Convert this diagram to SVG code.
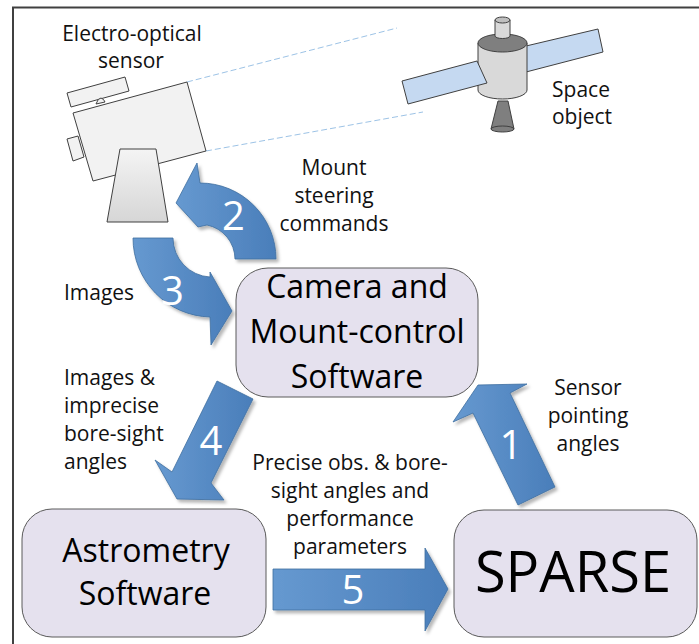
<svg xmlns="http://www.w3.org/2000/svg" width="699" height="644" viewBox="0 0 699 644">
  <defs>
    <linearGradient id="blueFill" x1="0" y1="0" x2="1" y2="0">
      <stop offset="0" stop-color="#6699d0"/>
      <stop offset="1" stop-color="#4a7eba"/>
    </linearGradient>
    <linearGradient id="mountFill" x1="0" y1="0" x2="0" y2="1">
      <stop offset="0" stop-color="#f4f4f4"/>
      <stop offset="1" stop-color="#d6d6d6"/>
    </linearGradient>
    <filter id="shadow" x="-20%" y="-20%" width="150%" height="150%">
      <feDropShadow dx="2.5" dy="3" stdDeviation="1.5" flood-color="#000" flood-opacity="0.28"/>
    </filter>
    <style>
      .box { fill: #e5e1ee; stroke: #5a5a5a; stroke-width: 1; }
      .flow { fill: url(#blueFill); stroke: #3f6f9f; stroke-width: 0.8; filter: url(#shadow); }
      .num { font-family: "Open Sans", "Liberation Sans", sans-serif; font-size: 40px; fill: #ffffff; text-anchor: middle; }
      .big { font-family: "Open Sans", "Liberation Sans", sans-serif; font-size: 32px; fill: #000; text-anchor: middle; }
      .lbl { font-family: "Open Sans", "Liberation Sans", sans-serif; font-size: 21px; fill: #111; text-anchor: middle; }
      .lbl-l { text-anchor: start; }
      .part { stroke: #404040; stroke-width: 1; stroke-linejoin: round; }
      .sight { fill: none; stroke: #9dc3e6; stroke-width: 1; stroke-dasharray: 6 3; }
    </style>
  </defs>

  <rect width="699" height="644" fill="#ffffff"/>

  <!-- frame edges -->
  <path d="M13,644 V7.5 H699" fill="none" stroke="#404040" stroke-width="2"/>

  <!-- lines of sight -->
  <g id="sightlines">
    <line class="sight" x1="187" y1="82" x2="397" y2="28"/>
    <line class="sight" x1="206" y1="151" x2="423" y2="112"/>
  </g>

  <!-- electro-optical sensor on its mount -->
  <g id="sensor">
    <polygon class="part" fill="#f2f2f2" points="67,93 125,77 129,91 71,107"/>
    <path class="part" fill="#f2f2f2" d="M96,104 Q98,98 101,98 Q104,99 105,102 Z"/>
    <polygon class="part" fill="#f2f2f2" points="67,139 78,136 84,157 73,161"/>
    <polygon class="part" fill="#f2f2f2" points="73,113 187,82 206,151 93,181"/>
    <polygon class="part" fill="url(#mountFill)" points="120,149 156,149 168,222 107,222"/>
    <text class="lbl" x="132" y="41">Electro-optical</text>
    <text class="lbl" x="131" y="68">sensor</text>
  </g>

  <!-- satellite -->
  <g id="space-object">
    <polygon class="part" fill="#c5d9f1" points="526,46 598,29 603,52 526,72"/>
    <polygon class="part" fill="#7f7f7f" points="498,101 508,101 514,129 491,129"/>
    <ellipse class="part" fill="#7f7f7f" cx="502.5" cy="129" rx="11.5" ry="3"/>
    <path class="part" fill="#d9d9d9" d="M478,43 V90 A24.5,9 0 0 0 527,90 V43 Z"/>
    <ellipse class="part" fill="#7f7f7f" cx="502.5" cy="43" rx="24.5" ry="9"/>
    <path class="part" fill="#d9d9d9" d="M495,20 V36 A7.5,2.5 0 0 0 510,36 V20 Z"/>
    <ellipse class="part" fill="#bfbfbf" cx="502.5" cy="20" rx="7.5" ry="3"/>
    <polygon class="part" fill="#c5d9f1" points="402,81 477,61 487,83 408,104"/>
    <text class="lbl" x="581" y="97">Space</text>
    <text class="lbl" x="582" y="124">object</text>
  </g>

  <!-- software blocks -->
  <g id="camera-mount-software">
    <rect class="box" x="236" y="268" width="242" height="129" rx="32" ry="32"/>
    <text class="big" x="357" y="298">Camera and</text>
    <text class="big" x="357" y="343">Mount-control</text>
    <text class="big" x="357" y="388">Software</text>
  </g>

  <g id="astrometry-software">
    <rect class="box" x="22" y="509" width="244" height="128" rx="30" ry="30"/>
    <text class="big" x="146" y="562">Astrometry</text>
    <text class="big" x="145" y="605">Software</text>
  </g>

  <g id="sparse">
    <rect class="box" x="454" y="510" width="243" height="127" rx="30" ry="30"/>
    <text class="big" x="573" y="592" style="font-size:56px">SPARSE</text>
  </g>

  <!-- numbered data flows -->
  <g id="connectors">
    <g id="flow-1">
      <polygon class="flow" points="478,385 527,384 510,393 555,487 518,505 473,413 453,422"/>
      <text class="num" x="511" y="459">1</text>
    </g>
    <g id="flow-2">
      <path class="flow" d="M276,259 A76,76 0 0 0 200,183 L197,163 L176,203 L198,227 L207,225 A35,35 0 0 1 235,259 Z"/>
      <text class="num" x="233.5" y="230">2</text>
    </g>
    <g id="flow-3">
      <path class="flow" d="M133,238 A79,79 0 0 0 210,317 L211,345 L232,311 L210,272 L210,277 A39,39 0 0 1 173,238 Z"/>
      <text class="num" x="172.5" y="305">3</text>
    </g>
    <g id="flow-4">
      <polygon class="flow" points="217,381 253,399 211,483 224,500 177,499 155,460 172,472"/>
      <text class="num" x="211" y="455">4</text>
    </g>
    <g id="flow-5">
      <polygon class="flow" points="273,569 425,569 425,548 448,589 425,631 425,610 273,610"/>
      <text class="num" x="353" y="604">5</text>
    </g>
  </g>

  <!-- flow labels -->
  <g id="labels">
    <text class="lbl" x="334" y="175">Mount</text>
    <text class="lbl" x="334" y="203">steering</text>
    <text class="lbl" x="334" y="231">commands</text>
    <text class="lbl" x="99" y="300">Images</text>
    <text class="lbl lbl-l" x="64" y="385">Images &amp;</text>
    <text class="lbl lbl-l" x="64" y="413">imprecise</text>
    <text class="lbl lbl-l" x="64" y="441">bore-sight</text>
    <text class="lbl lbl-l" x="64" y="469">angles</text>
    <text class="lbl" x="588" y="395">Sensor</text>
    <text class="lbl" x="588" y="423">pointing</text>
    <text class="lbl" x="588" y="451">angles</text>
    <text class="lbl" x="350" y="470">Precise obs. &amp; bore-</text>
    <text class="lbl" x="350" y="498">sight angles and</text>
    <text class="lbl" x="350" y="526">performance</text>
    <text class="lbl" x="350" y="554">parameters</text>
  </g>
</svg>
